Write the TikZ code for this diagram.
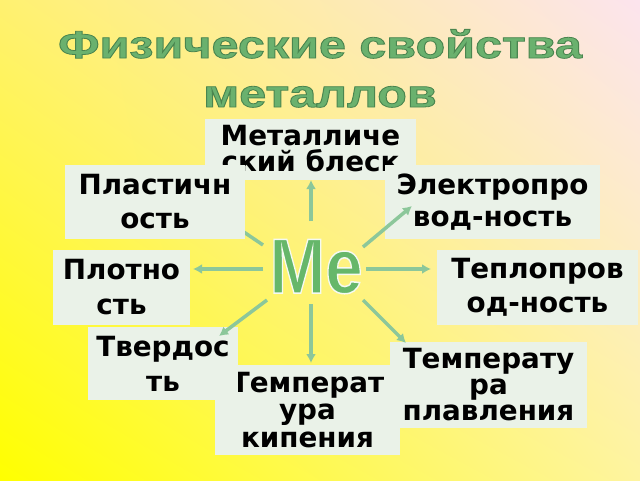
\documentclass[tikz,border=0pt]{standalone}
\usepackage{fontspec}
\setmainfont{DejaVu Sans}
\newfontfamily\titlefont{Liberation Sans}
\usetikzlibrary{arrows.meta,shadings}
\definecolor{boxfill}{HTML}{EAF2E8}
\definecolor{arrowgreen}{HTML}{8CC79A}
\definecolor{titlegreen}{HTML}{6AB16E}
\definecolor{megreen}{HTML}{66B76A}
\definecolor{bgUL}{HTML}{FFF170}
\definecolor{bgUR}{HTML}{FCE4EE}
\definecolor{bgLL}{HTML}{FFFF00}
\definecolor{bgLR}{HTML}{FEF4A0}
\newcommand{\outlinedtext}[3]{\special{pdf:literal direct 2 Tr #1 w #2 RG}#3\special{pdf:literal direct 0 Tr}}
\tikzset{
  box/.style={fill=boxfill, draw=none, inner sep=0pt, align=center, text=black},
  lbl/.style={font=\bfseries\fontsize{27.8}{#1}\selectfont},
  link/.style={draw=arrowgreen, line width=3.5pt, -{Latex[length=9pt,width=10pt]}},
  titletext/.style={font=\titlefont\bfseries\fontsize{38.5}{46}\selectfont, text=titlegreen, anchor=base, xscale=1.26}
}
\begin{document}
\begin{tikzpicture}[x=1pt,y=-1pt]
\shade[upper left=bgUL, upper right=bgUR, lower left=bgLL, lower right=bgLR] (0,0) rectangle (640,480);
\useasboundingbox (0,0) rectangle (640,480);
\node[titletext] (t1) at (320,58) {\outlinedtext{0.8}{0.29 0.52 0.31}{Физические свойства}};
\node[titletext] (t2) at (320,107) {\outlinedtext{0.8}{0.29 0.52 0.31}{металлов}};

% arrow end coordinates
\coordinate (ulT) at (263,245); \coordinate (ulH) at (232,224);
\coordinate (uT) at (311,221);  \coordinate (uH) at (311,180);
\coordinate (urT) at (363,247); \coordinate (urH) at (412,206);
\coordinate (lT) at (263,269);  \coordinate (lH) at (193,269);
\coordinate (rT) at (366,269);  \coordinate (rH) at (431,269);
\coordinate (llT) at (267,300); \coordinate (llH) at (219,336);
\coordinate (dT) at (311,304);  \coordinate (dH) at (311,363);
\coordinate (lrT) at (363,300); \coordinate (lrH) at (406,343);

\node[box, lbl=26, minimum width=211pt, minimum height=61pt] (metal) at (310.5,149) {Металличе\\ский блеск};
\draw[link] (ulT) -- (ulH);
\node[box, lbl=34, minimum width=180pt, minimum height=74pt] (plast) at (155,202) {Пластичн\\ость};
\node[box, lbl=32, minimum width=215pt, minimum height=74pt] (elec) at (492.5,202) {Электропро\\вод-ность};
\node[box, lbl=35, minimum width=137pt, minimum height=75pt] (plot) at (121.5,287.5) {Плотно\\сть};
\node[box, lbl=34, minimum width=201pt, minimum height=75pt] (tepl) at (537.5,287.5) {Теплопров\\од-ность};
\node[box, lbl=27.5, minimum width=185pt, minimum height=90pt] (kip) at (307.5,410) {Температ\\ура\\кипения};
\node[box, lbl=35, minimum width=150pt, minimum height=73pt] (tverd) at (163,363.5) {Твердос\\ть};
\node[box, lbl=26, minimum width=197pt, minimum height=86pt] (plav) at (488.5,385) {Температу\\ра\\плавления};

\draw[link] (uT) -- (uH);
\draw[link] (urT) -- (urH);
\draw[link] (lT) -- (lH);
\draw[link] (rT) -- (rH);
\draw[link] (llT) -- (llH);
\draw[link] (dT) -- (dH);
\draw[link] (lrT) -- (lrH);

\node[font=\titlefont\bfseries\fontsize{78}{78}\selectfont, text=megreen, xscale=0.86, anchor=base] (me) at (316,293) {\outlinedtext{1.5}{0.96 0.98 0.95}{Me}};
\end{tikzpicture}
\end{document}
